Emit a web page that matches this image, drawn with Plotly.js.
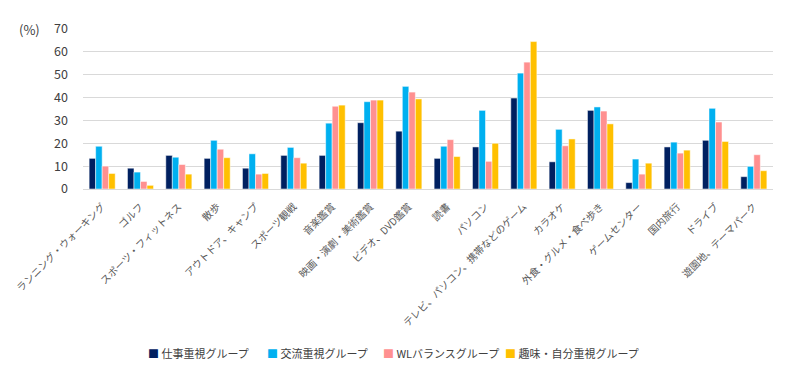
<!DOCTYPE html>
<html>
<head>
<meta charset="utf-8">
<script src="https://cdn.plot.ly/plotly-3.0.1.min.js"></script>
<style>html,body{margin:0;padding:0;background:#fff;}#chart{width:800px;height:384px;}</style>
</head>
<body>
<div id="chart"></div>
<script>
const categories = ["ランニング・ウォーキング","ゴルフ","スポーツ・フィットネス","散歩","アウトドア、キャンプ","スポーツ観戦","音楽鑑賞","映画・演劇・美術鑑賞","ビデオ、DVD鑑賞","読書","パソコン","テレビ、パソコン、携帯などのゲーム","カラオケ","外食・グルメ・食べ歩き","ゲームセンター","国内旅行","ドライブ","遊園地、テーマパーク"];
const seriesNames = ["仕事重視グループ","交流重視グループ","WLバランスグループ","趣味・自分重視グループ"];
const work    = [13.4, 9.1, 14.7, 13.4, 9.1, 14.7, 14.7, 29.0, 25.3, 13.4, 18.4, 39.8, 11.9, 34.4, 2.8, 18.4, 21.3, 5.4];
const social  = [18.7, 7.4, 13.9, 21.3, 15.4, 18.2, 28.8, 38.2, 44.9, 18.7, 34.4, 50.7, 26.1, 35.9, 13.1, 20.5, 35.3, 9.9];
const balance = [10.0, 3.3, 10.7, 17.4, 6.5, 13.7, 36.2, 38.9, 42.4, 21.6, 12.1, 55.5, 18.9, 34.1, 6.5, 15.7, 29.3, 15.0];
const hobby   = [6.8, 1.6, 6.5, 13.7, 6.8, 11.3, 36.7, 38.9, 39.4, 14.2, 20.0, 64.5, 21.9, 28.5, 11.3, 17.0, 20.8, 8.0];
const yTicks = [0,10,20,30,40,50,60,70];

const colors = ["#002060","#00B0F0","#FF9090","#FFC000"];
const values = [work, social, balance, hobby];
const traces = values.map((v,i)=>({
  type:'bar', x:categories, y:v, name:seriesNames[i],
  marker:{color:colors[i], line:{color:'#ffffff', width:0.5}},
  hoverinfo:'y', showlegend:false
}));

// legend drawn as text annotations (left edges in px of the 800px page)
const legendLeftPx = [146, 265, 381, 503];
const plotL = 83, plotW = 690, plotB = 189, plotH = 160.6;
const legendAnn = seriesNames.map((n,i)=>({
  text:'<span style="color:'+colors[i]+'">■</span> '+n,
  xref:'paper', yref:'paper',
  x:(legendLeftPx[i]-plotL)/plotW, y:(plotB-354)/plotH,
  xanchor:'left', yanchor:'middle', showarrow:false,
  font:{size:11, color:'#404040'}
}));

const layout = {
  width:800, height:384,
  margin:{l:83, r:27, t:29, b:195},
  paper_bgcolor:'#ffffff', plot_bgcolor:'#ffffff',
  font:{family:'"Noto Sans CJK JP", "Noto Sans", sans-serif', color:'#404040', size:12},
  barmode:'group', bargap:0.32, bargroupgap:0,
  xaxis:{
    tickangle:-45, tickfont:{size:10, color:'#595959'},
    showline:true, linecolor:'#d9d9d9', linewidth:1, ticks:'', showgrid:false,
    ticklabelstandoff:7,
    automargin:false
  },
  yaxis:{
    range:[0,70], tickvals:yTicks, ticktext:yTicks.map(String),
    showgrid:true, gridcolor:'#d9d9d9', gridwidth:1,
    zeroline:false, showline:false, ticks:'',
    tickfont:{size:12.5, color:'#404040'}, ticklabelstandoff:14,
    automargin:false
  },
  showlegend:false,
  annotations:[{
    text:'(%)', xref:'paper', yref:'paper', x:-0.06, y:1.0, xanchor:'right', yanchor:'middle',
    showarrow:false, font:{size:13, color:'#404040'}
  }].concat(legendAnn)
};

Plotly.newPlot('chart', traces, layout, {displayModeBar:false, staticPlot:true});
</script>
</body>
</html>
